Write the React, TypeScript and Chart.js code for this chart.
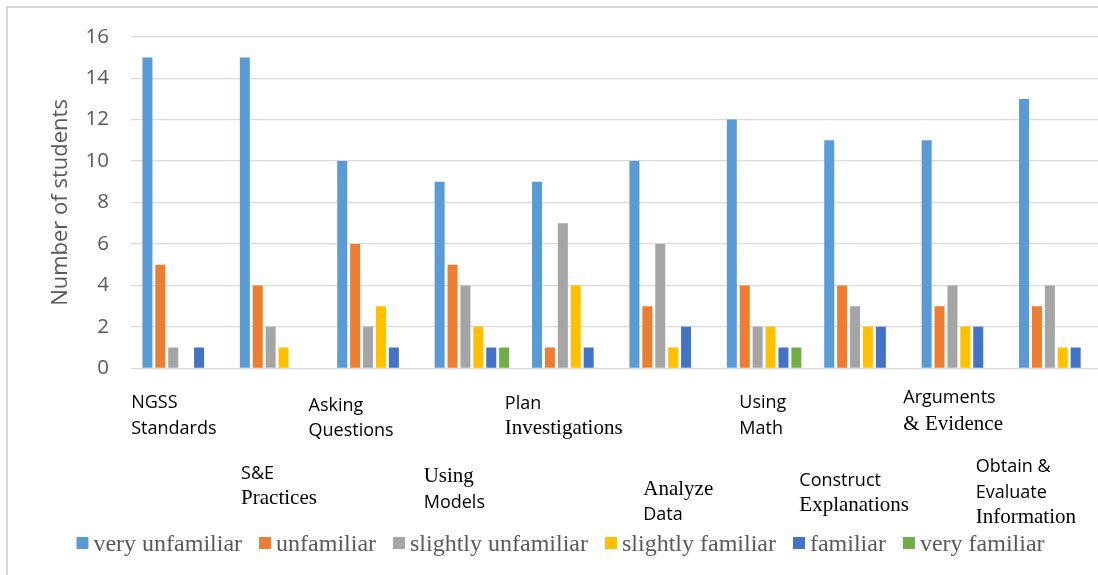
import React, { useEffect, useRef } from "react";
import { Chart, registerables } from "chart.js";

Chart.register(...registerables);

// ---- data ----
const categoryLines: string[][] = [
  ["NGSS", "Standards"],
  ["S&E", "Practices"],
  ["Asking", "Questions"],
  ["Using", "Models"],
  ["Plan", "Investigations"],
  ["Analyze", "Data"],
  ["Using", "Math"],
  ["Construct", "Explanations"],
  ["Arguments", "& Evidence"],
  ["Obtain &", "Evaluate", "Information"],
];
const categories = categoryLines.map((l) => l.join(" "));

const veryUnfamiliar = [15, 15, 10, 9, 9, 10, 12, 11, 11, 13];
const unfamiliar = [5, 4, 6, 5, 1, 3, 4, 4, 3, 3];
const slightlyUnfamiliar = [1, 2, 2, 4, 7, 6, 2, 3, 4, 4];
const slightlyFamiliar = [0, 1, 3, 2, 4, 1, 2, 2, 2, 1];
const familiar = [1, 0, 1, 1, 1, 2, 1, 2, 2, 1];
const veryFamiliar = [0, 0, 0, 1, 0, 0, 1, 0, 0, 0];

const seriesNames = [
  "very unfamiliar",
  "unfamiliar",
  "slightly unfamiliar",
  "slightly familiar",
  "familiar",
  "very familiar",
];
const yTicks = [0, 2, 4, 6, 8, 10, 12, 14, 16];

// ---- styling ----
const seriesColors = ["#5B9BD5", "#ED7D31", "#A5A5A5", "#FFC000", "#4472C4", "#70AD47"];
// per category label: x offset from category center, first baseline, line gap, font per line
const labelLayout = [
  { dx: -48.5, y: 408.3, gap: 25.7, fonts: ["s", "s"] },
  { dx: -36.0, y: 479.3, gap: 24.5, fonts: ["s", "r"] },
  { dx: -66.0, y: 410.5, gap: 25.5, fonts: ["s", "s"] },
  { dx: -48.2, y: 481.7, gap: 26, fonts: ["r", "s"] },
  { dx: -64.5, y: 409.3, gap: 24.5, fonts: ["s", "r"] },
  { dx: -23.4, y: 494.5, gap: 25, fonts: ["r", "s"] },
  { dx: -24.8, y: 408.3, gap: 25.5, fonts: ["s", "s"] },
  { dx: -62.2, y: 485.8, gap: 24.8, fonts: ["s", "r"] },
  { dx: -55.6, y: 403.3, gap: 26.5, fonts: ["s", "r"] },
  { dx: -80.6, y: 471.7, gap: 25.8, fonts: ["s", "s", "r"] },
];
const SANS = "18px 'Open Sans'";
const SERIF = "21px 'Liberation Serif', 'Times New Roman', serif";

const CANVAS_W = 1112;
const CANVAS_H = 575;
const PLOT_LEFT = 131;
const PLOT_TOP = 36.7;
const PLOT_BOTTOM = 368.3;
const PLOT_RIGHT = 1105;

const categoryLabelPlugin = {
  id: "categoryLabels",
  afterDraw(chart: any) {
    const ctx = chart.ctx;
    const xs = chart.scales.x;
    ctx.save();
    ctx.fillStyle = "#000000";
    ctx.textAlign = "left";
    ctx.textBaseline = "alphabetic";
    categoryLines.forEach((lines, i) => {
      const lay = labelLayout[i];
      const cx = xs.getPixelForValue(i);
      lines.forEach((line, j) => {
        ctx.font = lay.fonts[j] === "r" ? SERIF : SANS;
        ctx.fillText(line, cx + lay.dx, lay.y + j * lay.gap);
      });
    });
    ctx.restore();
  },
};

const legendPlugin = {
  id: "customLegend",
  afterDraw(chart: any) {
    const ctx = chart.ctx;
    ctx.save();
    ctx.font = "24px 'Liberation Serif', 'Times New Roman', serif";
    ctx.textBaseline = "alphabetic";
    ctx.textAlign = "left";
    const box = 12;
    const gapBoxText = 5;
    const itemGap = 17;
    const ds = chart.data.datasets;
    const widths = ds.map((d: any) => box + gapBoxText + ctx.measureText(d.label).width);
    const total = widths.reduce((a: number, b: number) => a + b, 0) + itemGap * (ds.length - 1);
    const centerX = 560.5;
    let x = centerX - total / 2;
    const baseline = 551;
    ds.forEach((d: any, i: number) => {
      ctx.fillStyle = d.backgroundColor;
      ctx.fillRect(x, baseline - 14, box, box);
      ctx.fillStyle = "#595959";
      ctx.fillText(d.label, x + box + gapBoxText, baseline);
      x += widths[i] + itemGap;
    });
    ctx.restore();
  },
};

export default function App() {
  const canvasRef = useRef<HTMLCanvasElement | null>(null);

  useEffect(() => {
    if (!canvasRef.current) return;
    const seriesValues = [
      veryUnfamiliar,
      unfamiliar,
      slightlyUnfamiliar,
      slightlyFamiliar,
      familiar,
      veryFamiliar,
    ];
    const chart = new Chart(canvasRef.current, {
      type: "bar",
      data: {
        labels: categories,
        datasets: seriesNames.map((name, i) => ({
          label: name,
          data: seriesValues[i],
          backgroundColor: seriesColors[i],
          borderWidth: 0,
          categoryPercentage: 0.795,
          barPercentage: 0.775,
        })),
      },
      options: {
        animation: false,
        responsive: false,
        devicePixelRatio: 1,
        layout: {
          padding: { left: 0, top: PLOT_TOP, right: CANVAS_W - PLOT_RIGHT, bottom: 0 },
        },
        plugins: {
          legend: { display: false },
          tooltip: { enabled: false },
        },
        scales: {
          x: {
            grid: { display: false },
            border: { display: false },
            ticks: { display: false },
            afterFit(scale: any) {
              scale.height = CANVAS_H - PLOT_BOTTOM;
            },
          },
          y: {
            min: 0,
            max: 16,
            afterBuildTicks(scale: any) {
              scale.ticks = yTicks.map((v) => ({ value: v }));
            },
            grid: { color: "#d9d9d9", lineWidth: 1.3, drawTicks: false },
            border: { display: false },
            ticks: {
              padding: 22,
              color: "#595959",
              font: { family: "'Open Sans'", size: 20.5 },
            },
            title: {
              display: true,
              text: "Number of students",
              color: "#595959",
              font: { family: "'Open Sans'", size: 22 },
              padding: { top: 48, bottom: 0 },
            },
            afterFit(scale: any) {
              scale.width = PLOT_LEFT;
            },
          },
        },
      },
      plugins: [categoryLabelPlugin, legendPlugin],
    });
    return () => chart.destroy();
  }, []);

  return (
    <div
      style={{
        position: "fixed",
        left: 0,
        top: 0,
        width: 1098,
        height: 575,
        overflow: "hidden",
        background: "#ffffff",
      }}
    >
      <canvas
        ref={canvasRef}
        width={CANVAS_W}
        height={CANVAS_H}
        style={{ position: "absolute", left: 0, top: 0, width: CANVAS_W, height: CANVAS_H }}
      />
      <div
        style={{
          position: "absolute",
          left: 6,
          top: 6,
          width: 1200,
          height: 700,
          border: "2px solid #d9d9d9",
          pointerEvents: "none",
        }}
      />
    </div>
  );
}
